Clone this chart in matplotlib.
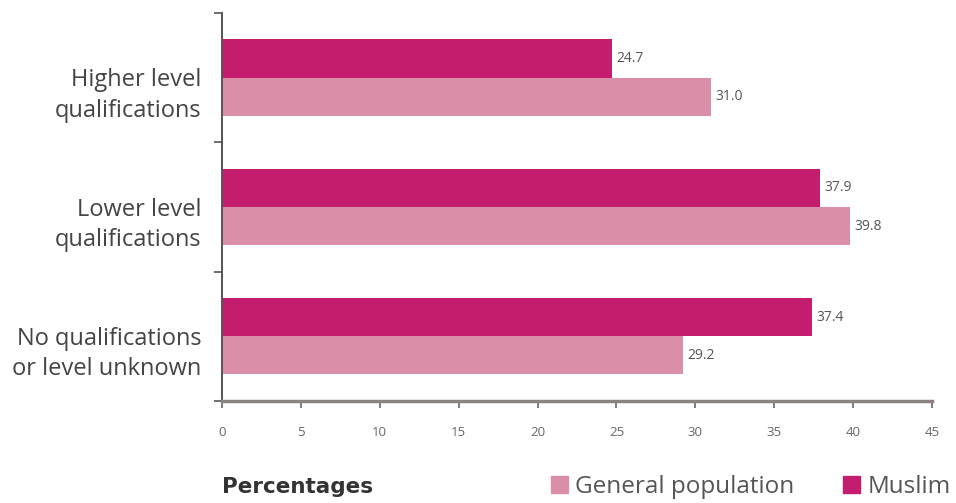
import matplotlib.pyplot as plt
import numpy as np
from matplotlib.patches import Patch

categories = ["Higher level\nqualifications", "Lower level\nqualifications", "No qualifications\nor level unknown"]
muslim = [24.7, 37.9, 37.4]
general = [31.0, 39.8, 29.2]
x_ticks = [0, 5, 10, 15, 20, 25, 30, 35, 40, 45]

MUSLIM_C = "#c41d6f"
GENERAL_C = "#db8ea8"
TEXT_C = "#444444"

plt.rcParams["font.family"] = ["Open Sans", "DejaVu Sans"]

fig = plt.figure(figsize=(9.56, 5.03), dpi=100)
ax = fig.add_axes([0.2322, 0.2028, 0.7427, 0.7714])

y = np.arange(len(categories))
h = 0.295
ax.barh(y - h / 2, muslim, height=h, color=MUSLIM_C)
ax.barh(y + h / 2, general, height=h, color=GENERAL_C)

for yi, v in zip(y - h / 2, muslim):
    ax.text(v + 0.3, yi, f"{v:.1f}", va="center", ha="left", fontsize=10, color="#555555")
for yi, v in zip(y + h / 2, general):
    ax.text(v + 0.3, yi, f"{v:.1f}", va="center", ha="left", fontsize=10, color="#555555")

ax.set_xlim(0, 45)
ax.set_ylim(2.5, -0.5)
ax.set_xticks(x_ticks)
ax.set_xticklabels([str(t) for t in x_ticks], fontsize=9.5, color="#666666")
ax.tick_params(axis="x", length=5, width=1.2, color="#666666", pad=13)

# boundaries between categories carry the tick marks, labels sit near the centres
ax.set_yticks([-0.5, 0.5, 1.5, 2.5])
ax.set_yticklabels([])
ax.set_yticks(y + 0.09, minor=True)
ax.set_yticklabels(categories, minor=True, fontsize=17, color=TEXT_C, ha="right", linespacing=1.35)
ax.tick_params(axis="y", which="major", length=6, width=1.2, color="#555555")
ax.tick_params(axis="y", which="minor", length=0, pad=15)

for side in ("top", "right"):
    ax.spines[side].set_visible(False)
ax.spines["left"].set_color("#555555")
ax.spines["left"].set_linewidth(1.4)
ax.spines["bottom"].set_color("#8c8282")
ax.spines["bottom"].set_linewidth(2.5)

fig.text(0.2322, 0.032, "Percentages", fontsize=15.5, fontweight="bold", color="#333333", va="center",
         family="DejaVu Sans")
handles = [Patch(color=GENERAL_C, label="General population"), Patch(color=MUSLIM_C, label="Muslim")]
fig.legend(handles=handles, loc="center right", bbox_to_anchor=(1.012, 0.032), ncol=2, frameon=False,
           fontsize=17.5, handlelength=0.7, handleheight=0.7, handletextpad=0.3, columnspacing=2.0,
           labelcolor="#555555", borderpad=0.2)

fig.savefig("out.png", dpi=100)
